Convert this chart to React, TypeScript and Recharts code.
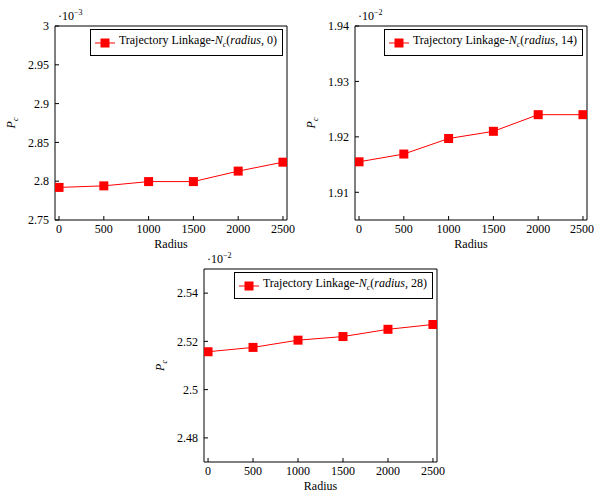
import React from 'react';
import {
  LineChart,
  Line,
  XAxis,
  YAxis,
  Legend,
} from 'recharts';

const radius = [0, 500, 1000, 1500, 2000, 2500];
const radiusTicks = [0, 500, 1000, 1500, 2000, 2500];

// P_c values, shown as mantissa of the axis multiplier
const pc0 = [2.792, 2.794, 2.7995, 2.7995, 2.813, 2.8245];
const pc14 = [1.9155, 1.9169, 1.9197, 1.921, 1.924, 1.924];
const pc28 = [2.5157, 2.5175, 2.5205, 2.522, 2.525, 2.527];

const ticks0 = [2.75, 2.8, 2.85, 2.9, 2.95, 3];
const ticks14 = [1.91, 1.92, 1.93, 1.94];
const ticks28 = [2.48, 2.5, 2.52, 2.54];

const FONT = '"Liberation Serif", "DejaVu Serif", serif';
const RED = '#ff0000';

type PanelProps = {
  box: { x: number; y: number; w: number; h: number };
  plot: { l: number; r: number; t: number; b: number };
  values: number[];
  yTicks: number[];
  yDomain: [number, number];
  exponent: string;
  suffix: string;
};

function Square(props: any) {
  const { cx, cy, index } = props;
  if (cx == null || cy == null) return <g key={`sq-${index}`} />;
  return (
    <rect
      key={`sq-${index}`}
      x={cx - 4.5}
      y={cy - 4.5}
      width={9}
      height={9}
      fill={RED}
    />
  );
}

function LegendBox({ suffix }: { suffix: string }) {
  return (
    <div
      style={{
        border: '1px solid #000',
        background: '#fff',
        padding: '2px 5px 2px 3px',
        display: 'flex',
        alignItems: 'center',
        fontFamily: FONT,
        fontSize: 12,
        lineHeight: '16px',
        whiteSpace: 'nowrap',
        color: '#000',
      }}
    >
      <svg width={22} height={12} style={{ marginRight: 3 }}>
        <line x1={1} y1={6} x2={21} y2={6} stroke={RED} strokeWidth={1} />
        <rect x={6.5} y={1.5} width={9} height={9} fill={RED} />
      </svg>
      <span>
        Trajectory Linkage-<i>N</i>
        <sub style={{ fontSize: 8, fontStyle: 'italic' }}>c</sub>(<i>radius</i>, {suffix})
      </span>
    </div>
  );
}

function Panel({ box, plot, values, yTicks, yDomain, exponent, suffix }: PanelProps) {
  const data = radius.map((r, i) => ({ r, v: values[i] }));
  // axes are 1px thick boxes, so the margins leave one pixel for each
  const margin = {
    top: plot.t - box.y - 1,
    left: plot.l - box.x - 1,
    right: box.x + box.w - plot.r - 1,
    bottom: box.y + box.h - plot.b - 1,
  };

  const yLabel = (props: any) => {
    const vb = props.viewBox || {};
    const x = (vb.x ?? 0) + 1;
    const y = vb.y ?? 0;
    const h = vb.height ?? 0;
    const lx = x - 40;
    const ly = y + h / 2;
    return (
      <g>
        <text
          x={lx}
          y={ly}
          transform={`rotate(-90, ${lx}, ${ly})`}
          textAnchor="middle"
          fontFamily={FONT}
          fontSize={12}
          fill="#000"
        >
          <tspan fontStyle="italic">P</tspan>
          <tspan fontStyle="italic" fontSize={8} dy={3}>c</tspan>
        </text>
        <text x={x + 3} y={y - 6} fontFamily={FONT} fontSize={12} fill="#000">
          <tspan>·10</tspan>
          <tspan fontSize={8} dy={-5}>{exponent}</tspan>
        </text>
      </g>
    );
  };

  return (
    <div style={{ position: 'absolute', left: box.x, top: box.y }}>
      <LineChart width={box.w} height={box.h} data={data} margin={margin}>
        <XAxis
          xAxisId="b"
          dataKey="r"
          type="number"
          domain={[-45, 2545]}
          ticks={radiusTicks}
          allowDataOverflow
          height={1}
          stroke="#000"
          tickSize={-4}
          tickMargin={8}
          tick={{ fill: '#000', fontSize: 12, fontFamily: FONT }}
          label={{
            value: 'Radius',
            position: 'bottom',
            offset: 18,
            fill: '#000',
            fontSize: 12,
            fontFamily: FONT,
          }}
        />
        <XAxis
          xAxisId="t"
          dataKey="r"
          type="number"
          orientation="top"
          domain={[-45, 2545]}
          ticks={radiusTicks}
          allowDataOverflow
          height={1}
          stroke="#000"
          tickSize={-4}
          tick={false}
        />
        <YAxis
          yAxisId="l"
          type="number"
          domain={yDomain}
          ticks={yTicks}
          allowDataOverflow
          width={1}
          stroke="#000"
          tickSize={-4}
          tickMargin={10}
          tick={{ fill: '#000', fontSize: 12, fontFamily: FONT }}
          tickFormatter={(v: number) => String(v)}
          label={yLabel}
        />
        <YAxis
          yAxisId="r"
          type="number"
          orientation="right"
          domain={yDomain}
          ticks={yTicks}
          allowDataOverflow
          width={1}
          stroke="#000"
          tickSize={-4}
          tick={false}
        />
        <Legend
          layout="vertical"
          align="center"
          verticalAlign="middle"
          wrapperStyle={{ top: plot.t - box.y + 3, right: box.x + box.w - plot.r + 4, left: 'auto', width: 'auto' }}
          content={() => <LegendBox suffix={suffix} />}
        />
        <Line
          xAxisId="b"
          yAxisId="l"
          dataKey="v"
          type="linear"
          stroke={RED}
          strokeWidth={1}
          dot={Square}
          activeDot={false}
          isAnimationActive={false}
        />
      </LineChart>
    </div>
  );
}

export default function App() {
  return (
    <div
      style={{
        position: 'absolute',
        left: 0,
        top: 0,
        width: 594,
        height: 492,
        background: '#fff',
        fontFamily: FONT,
      }}
    >
      <Panel
        box={{ x: 0, y: 0, w: 297, h: 258 }}
        plot={{ l: 55, r: 287, t: 26, b: 220 }}
        values={pc0}
        yTicks={ticks0}
        yDomain={[2.75, 3]}
        exponent="−3"
        suffix="0"
      />
      <Panel
        box={{ x: 297, y: 0, w: 297, h: 258 }}
        plot={{ l: 355, r: 587, t: 26, b: 220 }}
        values={pc14}
        yTicks={ticks14}
        yDomain={[1.905, 1.94]}
        exponent="−2"
        suffix="14"
      />
      <Panel
        box={{ x: 148, y: 250, w: 297, h: 242 }}
        plot={{ l: 204, r: 437, t: 269, b: 462 }}
        values={pc28}
        yTicks={ticks28}
        yDomain={[2.47, 2.55]}
        exponent="−2"
        suffix="28"
      />
    </div>
  );
}
